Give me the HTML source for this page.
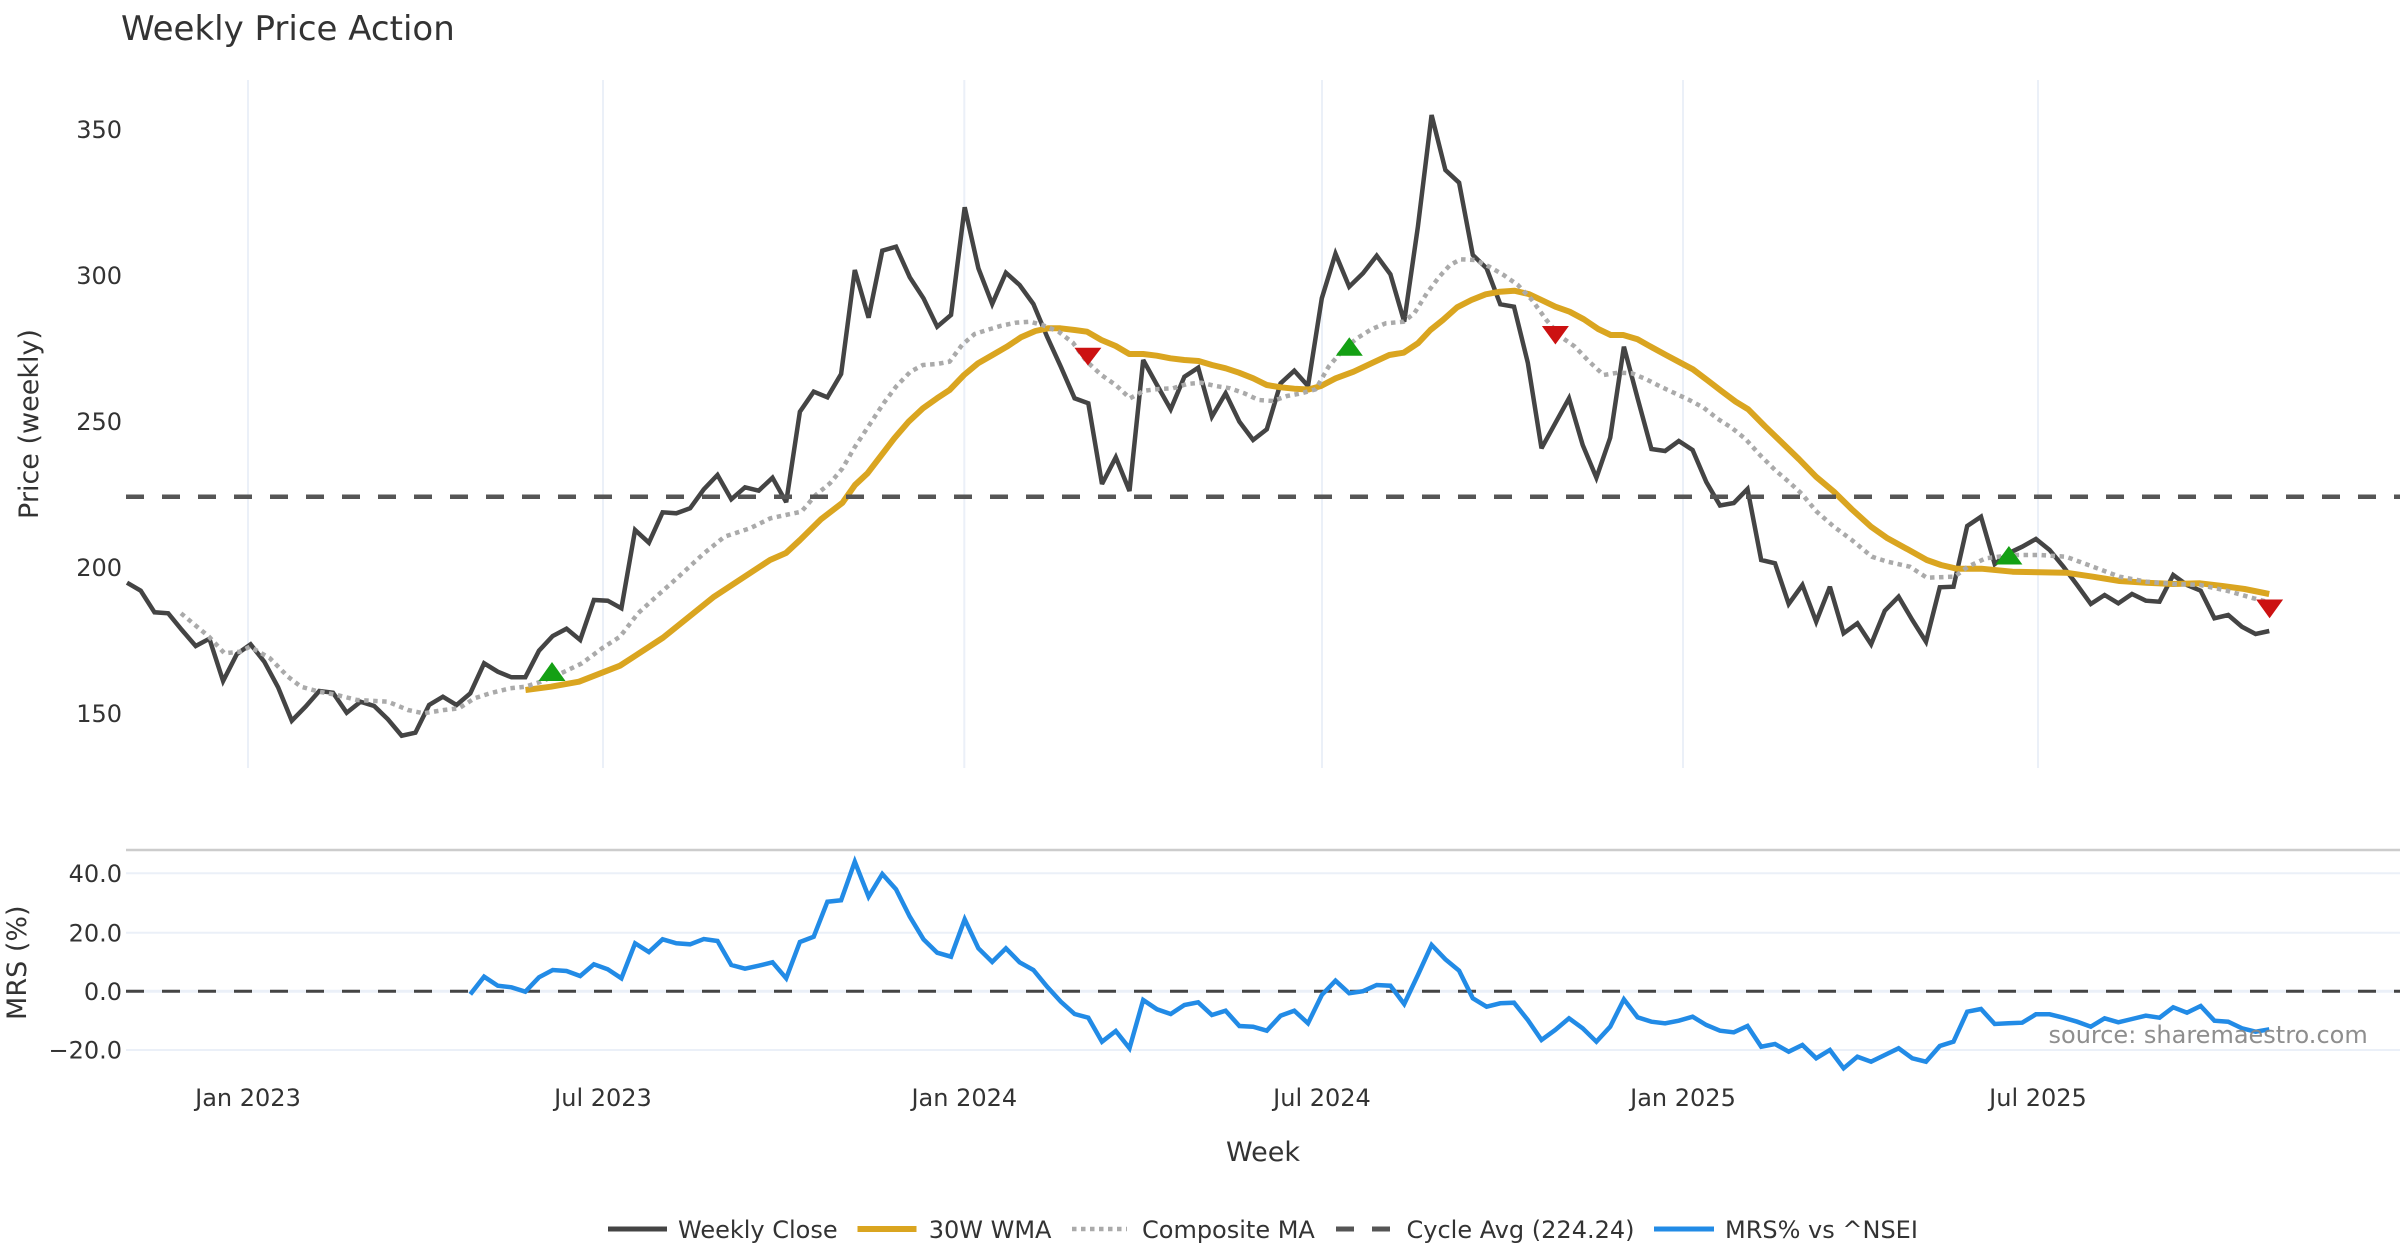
<!DOCTYPE html>
<html>
<head>
<meta charset="utf-8">
<style>
html,body{margin:0;padding:0;background:#ffffff;}
svg{display:block;}
text{font-family:"DejaVu Sans","Liberation Sans",sans-serif;}
</style>
</head>
<body>
<svg width="2400" height="1260" viewBox="0 0 2400 1260" xmlns="http://www.w3.org/2000/svg">
<rect x="0" y="0" width="2400" height="1260" fill="#ffffff"/>

<!-- Title -->
<text x="121" y="40" font-size="34" fill="#333333">Weekly Price Action</text>

<!-- Top plot vertical gridlines -->
<g stroke="#EBF0F8" stroke-width="2">
<line x1="248" y1="80" x2="248" y2="768"/>
<line x1="603" y1="80" x2="603" y2="768"/>
<line x1="964.3" y1="80" x2="964.3" y2="768"/>
<line x1="1322" y1="80" x2="1322" y2="768"/>
<line x1="1683" y1="80" x2="1683" y2="768"/>
<line x1="2038" y1="80" x2="2038" y2="768"/>
</g>

<!-- Price tick labels -->
<g font-size="24" fill="#333333" text-anchor="end">
<text x="122" y="138.2">350</text>
<text x="122" y="284.2">300</text>
<text x="122" y="430.1">250</text>
<text x="122" y="576.1">200</text>
<text x="122" y="722">150</text>
</g>

<!-- Price axis title -->
<text transform="translate(38,424) rotate(-90)" font-size="27" fill="#333333" text-anchor="middle">Price (weekly)</text>

<!-- Weekly close -->
<polyline fill="none" stroke="#444444" stroke-width="4.5" stroke-linejoin="miter" stroke-miterlimit="3"
points="127,582.7 140.7,590.7 154.5,612.3 168.2,613.3 181.9,630 195.7,646 209.4,638.7 223.1,681 236.9,654 250.6,644.3 264.3,661.7 278.1,687.3 291.8,720.7 305.5,706.7 319.3,691 333,692.7 346.7,712.7 360.5,701.7 374.2,706 387.9,719.3 401.7,735.7 415.4,732.7 429.1,705 442.9,696.7 456.6,705 470.3,693.3 484.1,663.3 497.8,671.7 511.5,677.3 525.3,677.3 539,650.7 552.7,636 566.5,628.7 580.2,640 593.9,600 607.7,600.7 621.4,608.3 635.1,530 648.9,542.7 662.6,512.3 676.3,513.3 690.1,508.3 703.8,489.3 717.5,475 731.3,499.3 745,487.3 758.7,490.7 772.5,477.7 786.2,502.2 799.9,411.7 813.7,391.7 827.4,397.3 841.1,374 854.8,270 868.6,317.7 882.3,250.7 896,246.7 909.8,277.3 923.5,298.3 937.2,326.7 951,315 964.7,207.3 978.4,268.3 992.2,304 1005.9,272.7 1019.6,285 1033.4,304 1047.1,336.7 1060.8,366.7 1074.6,398.3 1088.3,403.3 1102,484 1115.8,457.3 1129.5,491 1143.2,360 1157,385 1170.7,409.3 1184.4,376.7 1198.2,367.7 1211.9,416.7 1225.6,393.3 1239.4,421.7 1253.1,440 1266.8,429.3 1280.6,383.3 1294.3,370.7 1308,386 1321.8,298.3 1335.5,253.7 1349.2,286.7 1363,273.3 1376.7,255.7 1390.4,274.3 1404.2,321.7 1417.9,226.7 1431.6,115 1445.4,170 1459.1,182.7 1472.8,255 1486.6,268.3 1500.3,304.3 1514,306.7 1527.8,362.7 1541.5,448.3 1555.2,423.3 1569,398.3 1582.7,445 1596.4,477.7 1610.2,437.7 1623.9,346.7 1637.6,398.3 1651.4,449 1665.1,451 1678.8,441 1692.6,450 1706.3,482 1720,505.5 1733.8,503 1747.5,489 1761.2,560 1775,563.3 1788.7,604 1802.4,585 1816.2,621.7 1829.9,586.7 1843.6,633.3 1857.4,623.3 1871.1,644.3 1884.8,610.7 1898.6,596.7 1912.3,620 1926,641.7 1939.8,587.3 1953.5,586.7 1967.2,526 1981,516.7 1994.7,564 2008.4,553.3 2022.2,546.7 2035.9,539 2049.6,550 2063.4,566.7 2077.1,585 2090.8,604 2104.6,595 2118.3,603.3 2132,594 2145.8,600.7 2159.5,601.7 2173.2,575 2187,585 2200.7,590.7 2214.4,618.3 2228.2,615 2241.9,626.7 2255.6,634 2269.3,631"/>

<!-- 30W WMA -->
<polyline fill="none" stroke="#DAA520" stroke-width="6" stroke-linejoin="round"
points="525.5,690 551,686.7 579,681.7 620,665.7 663,637.7 714,596.7 770,560 786,553 800,540 821,519.3 842.5,502.7 855,485 867.5,473.3 894.3,438.3 908.6,421.7 922.9,408.3 937,398.3 949.6,390 964,375 978,363.3 992.5,355 1006.8,346.7 1021,337.3 1035.4,331 1047.9,328.3 1060.4,328.3 1074.6,330 1087,331.7 1101.4,340 1115.7,346 1129.3,354 1143.2,354 1156.8,355.7 1170.4,358.3 1184.3,360 1198.6,361 1212,365 1225.7,368.3 1239,372.7 1253.2,378.3 1266.8,385 1280.7,387.3 1294.3,388.7 1308.6,389.5 1321,386 1335.7,378.3 1353.6,371.7 1371.4,363.3 1389.3,355 1403.6,352.7 1417.9,343.3 1430.4,330 1442.9,320 1457.1,307.3 1471.4,300 1485.7,294.3 1500,291.7 1514.3,290.7 1528.6,294 1542.9,300.7 1555.4,306.7 1569.6,311.7 1583.9,319.3 1598.2,329 1610.7,335 1623.2,335 1637.5,339.3 1651.8,347.3 1666,355 1680.4,362.7 1692.9,369.3 1707.1,380 1721.4,391 1735.7,401.7 1748.2,409.3 1764.7,426 1782.6,443.3 1799.1,459.3 1816,476.7 1833.9,491.7 1851.8,509.3 1871,526.7 1887.5,538.3 1907.6,549.3 1926.8,560 1941,565 1956.7,568.7 1981.3,568.7 2012.5,571.7 2066,572.7 2092.9,576.7 2119.6,581 2146.4,582.7 2173.2,584 2200,583.3 2222.3,586 2244.6,589 2269.2,594"/>

<!-- Composite MA -->
<polyline fill="none" stroke="#AAAAAA" stroke-width="4.5" stroke-dasharray="4.5 4.5" stroke-linejoin="round"
points="181,613.3 209,636.7 224.5,653.3 240,651.7 250,646.7 270,658.3 288,676.7 301,686.7 319,691.7 337,695 357,700 388,701.7 408,710 423.5,713.3 444,710 459,708.3 474.5,698.3 490,693.3 510,688.3 525.5,686.7 541,681.7 561,673.3 582,663.3 602,648.3 620,636.7 638,613.3 658,595 678.6,576.7 704,553.3 724.5,536.7 750,528.3 770.4,518.3 785.7,515 801.4,511.7 815.7,495 830,483.3 842.5,468.3 855,446.7 869.3,425 883.6,403.3 896,386.7 910.4,371.7 922.9,365 937,364 949.6,361.7 962,345 974.6,334 987,330 1001.4,325.7 1015.7,322.7 1030,321.7 1042.5,325 1058.6,331.7 1072.9,342.7 1087,361.7 1101.4,375 1115.7,385 1130,398.3 1144.3,390.7 1158.6,389 1172.9,388.3 1187,384 1201.4,382.7 1215.7,386 1230,388.3 1244.3,393.3 1258.6,400 1272.9,401 1287.1,396 1301.4,393.3 1315.7,389.3 1328.6,366.7 1342.9,350 1357,338.3 1371.4,329.3 1385.7,323.3 1403.6,321.7 1414.3,313.3 1426.8,293.3 1439.3,276.7 1450,265 1460.7,259.3 1475,260 1489.3,266.7 1503.6,275 1517.9,285 1532,300 1546.4,320 1560.7,336.7 1575,346.7 1589.3,361.7 1603.6,375 1617.9,372.7 1632,373.3 1646.4,379.3 1660.7,386.7 1675,393.3 1689.3,400 1703.6,407.7 1717.9,419 1732,428 1745.5,439 1760,455 1775,470 1789,482 1802,494 1816,511 1833.9,526.7 1851.8,540 1871.9,556.7 1887.5,561.7 1909.8,566.7 1926.8,577.7 1954.5,576.7 1967.9,566.7 1985.7,558.3 2012.5,555 2039.3,555 2066,556.7 2092.9,566.7 2119.6,576.7 2146.4,581.7 2173.2,584 2200,585 2226.8,590.7 2253.6,598.3 2267,601.7"/>

<!-- Cycle Avg -->
<line x1="126" y1="496.7" x2="2400" y2="496.7" stroke="#555555" stroke-width="4.5" stroke-dasharray="18 18"/>

<!-- Markers -->
<g fill="#14A014">
<polygon points="552,662 538.5,681 565.5,681"/>
<polygon points="1349.3,337.3 1335.8,355.7 1362.8,355.7"/>
<polygon points="2008.9,546 1995.4,564.5 2022.4,564.5"/>
</g>
<g fill="#CC1111">
<polygon points="1074.4,347.7 1101.4,347.7 1087.9,365.5"/>
<polygon points="1541.9,326 1568.9,326 1555.4,344.5"/>
<polygon points="2256.1,599.5 2283.1,599.5 2269.6,618.3"/>
</g>

<!-- Bottom subplot -->
<line x1="126" y1="850" x2="2400" y2="850" stroke="#CCCCCC" stroke-width="2.5"/>
<g stroke="#EBF0F8" stroke-width="2">
<line x1="126" y1="873.3" x2="2400" y2="873.3"/>
<line x1="126" y1="932.7" x2="2400" y2="932.7"/>
<line x1="126" y1="1050" x2="2400" y2="1050"/>
</g>
<line x1="126" y1="991.3" x2="2400" y2="991.3" stroke="#EBF0F8" stroke-width="3"/>
<line x1="126" y1="991.3" x2="2400" y2="991.3" stroke="#444444" stroke-width="3" stroke-dasharray="18 18"/>

<g font-size="24" fill="#333333" text-anchor="end">
<text x="122" y="882">40.0</text>
<text x="122" y="941.4">20.0</text>
<text x="122" y="1000">0.0</text>
<text x="122" y="1058.7">−20.0</text>
</g>
<text transform="translate(26,962.7) rotate(-90)" font-size="27" fill="#333333" text-anchor="middle">MRS (%)</text>

<!-- MRS line -->
<polyline fill="none" stroke="#228BE6" stroke-width="4.5" stroke-linejoin="miter" stroke-miterlimit="3"
points="470.3,994.3 484.1,976.7 497.8,985.7 511.5,987.3 525.3,991.7 539,977.3 552.7,970 566.5,971 580.2,976 593.9,964.3 607.7,969.3 621.4,978.3 635.1,943.3 648.9,952 662.6,939.3 676.3,943.3 690.1,944.3 703.8,939 717.5,941 731.3,965 745,968.7 758.7,965.7 772.5,962.3 786.2,978.3 799.9,942 813.7,936.7 827.4,901.7 841.1,900.3 854.8,861.7 868.6,896.7 882.3,874 896,889.3 909.8,916.7 923.5,939.3 937.2,952.7 951,956.7 964.7,919.3 978.4,948.3 992.2,962 1005.9,948.3 1019.6,962.3 1033.4,970 1047.1,986.7 1060.8,1001.7 1074.6,1014 1088.3,1017.7 1102,1041.7 1115.8,1031 1129.5,1048.3 1143.2,1000 1157,1009.3 1170.7,1014 1184.4,1005 1198.2,1002.3 1211.9,1015 1225.6,1010.7 1239.4,1026 1253.1,1026.7 1266.8,1030.7 1280.6,1015.7 1294.3,1010.7 1308,1023.3 1321.8,995 1335.5,980.7 1349.2,993.3 1363,991.2 1376.7,985 1390.4,985.7 1404.2,1004 1417.9,975 1431.6,945 1445.4,959.3 1459.1,970.7 1472.8,998.3 1486.6,1006.7 1500.3,1003.3 1514,1002.7 1527.8,1020 1541.5,1040 1555.2,1030 1569,1018.3 1582.7,1028.3 1596.4,1041.7 1610.2,1026.7 1623.9,999.3 1637.6,1017.3 1651.4,1021.7 1665.1,1023.3 1678.8,1020.7 1692.6,1016.7 1706.3,1025 1720,1030.7 1733.8,1032.3 1747.5,1026 1761.2,1046.7 1775,1044 1788.7,1051.7 1802.4,1045 1816.2,1058.3 1829.9,1050 1843.6,1068.3 1857.4,1056.7 1871.1,1061.7 1884.8,1055 1898.6,1048.3 1912.3,1058.3 1926,1061.7 1939.8,1046 1953.5,1041.7 1967.2,1011.7 1981,1009 1994.7,1024 2008.4,1023.3 2022.2,1022.7 2035.9,1014.3 2049.6,1014.3 2063.4,1017.7 2077.1,1021.7 2090.8,1026.7 2104.6,1018.3 2118.3,1022.3 2132,1019 2145.8,1015.7 2159.5,1017.7 2173.2,1007.3 2187,1012.7 2200.7,1006 2214.4,1020.7 2228.2,1021.7 2241.9,1028.3 2255.6,1031.7 2269.3,1029.3"/>

<!-- Source annotation -->
<text x="2048.5" y="1043" font-size="24" fill="#888888" fill-opacity="0.95">source: sharemaestro.com</text>

<!-- X tick labels -->
<g font-size="24" fill="#333333" text-anchor="middle">
<text x="248" y="1106">Jan 2023</text>
<text x="603" y="1106">Jul 2023</text>
<text x="964.3" y="1106">Jan 2024</text>
<text x="1322" y="1106">Jul 2024</text>
<text x="1683" y="1106">Jan 2025</text>
<text x="2038" y="1106">Jul 2025</text>
</g>

<!-- X axis title -->
<text x="1263" y="1161" font-size="27" fill="#333333" text-anchor="middle">Week</text>

<!-- Legend -->
<line x1="608" y1="1229" x2="667" y2="1229" stroke="#444444" stroke-width="5"/>
<text x="678" y="1238" font-size="24" fill="#333333">Weekly Close</text>
<line x1="857.5" y1="1229" x2="916.5" y2="1229" stroke="#DAA520" stroke-width="6"/>
<text x="928.7" y="1238" font-size="24" fill="#333333">30W WMA</text>
<line x1="1072" y1="1229" x2="1127" y2="1229" stroke="#AAAAAA" stroke-width="4.5" stroke-dasharray="4.5 4.5"/>
<text x="1142" y="1238" font-size="24" fill="#333333">Composite MA</text>
<line x1="1336" y1="1229" x2="1391" y2="1229" stroke="#555555" stroke-width="5" stroke-dasharray="18 18"/>
<text x="1406.5" y="1238" font-size="24" fill="#333333">Cycle Avg (224.24)</text>
<line x1="1654" y1="1229" x2="1714" y2="1229" stroke="#228BE6" stroke-width="5"/>
<text x="1725" y="1238" font-size="24" fill="#333333">MRS% vs ^NSEI</text>
</svg>
</body>
</html>
